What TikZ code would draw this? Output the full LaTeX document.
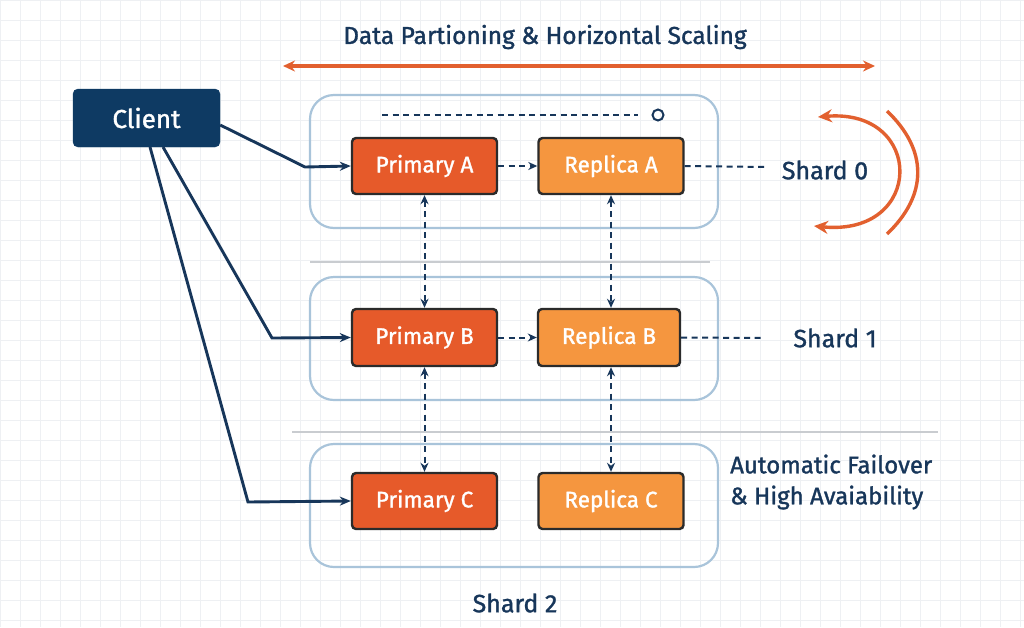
\documentclass[tikz,border=0pt]{standalone}
\usepackage{fontspec}
\setmainfont{Fira Sans}
\newfontfamily\medfont{Fira Sans}[FakeBold=1.3]
\usetikzlibrary{arrows.meta}
\definecolor{navy}{HTML}{17365A}
\definecolor{clientfill}{HTML}{0E3A63}
\definecolor{prim}{HTML}{E65A2A}
\definecolor{repl}{HTML}{F5963F}
\definecolor{contb}{HTML}{A9C4DA}
\definecolor{sep}{HTML}{C9CCD0}
\definecolor{arcc}{HTML}{E2602F}
\definecolor{gridc}{HTML}{EEF0F3}
\definecolor{boxedge}{HTML}{2B2B2B}
\tikzset{
  pbox/.style={draw=boxedge, line width=2.4pt, fill=prim, rounded corners=4pt, text=white, font=\medfont\fontsize{22.5}{26}\selectfont, minimum width=145pt, minimum height=56pt, inner sep=0pt},
  rbox/.style={pbox, fill=repl},
  cont/.style={draw=contb, line width=2.2pt, rounded corners=24pt, minimum width=408pt, inner sep=0pt},
  lab/.style={text=navy, font=\medfont\fontsize{25}{30}\selectfont, inner sep=0pt},
  dsh/.style={navy, line width=2pt, dash pattern=on 6pt off 4.5pt},
  darr/.style={dsh, -{Stealth[length=9pt,width=8pt]}},
  ddarr/.style={dsh, {Stealth[length=9pt,width=8pt]}-{Stealth[length=9pt,width=8pt]}},
  carr/.style={navy, line width=2.9pt, -{Stealth[length=11pt,width=9pt]}},
}
\begin{document}
\begin{tikzpicture}[x=1pt,y=-1pt]
\useasboundingbox (0,0) rectangle (1024,627);
\fill[white] (0,0) rectangle (1024,627);
\draw[gridc, line width=0.6pt, step=20pt] (0,0) grid (1024,627);

% title and double arrow
\node[lab, font=\medfont\fontsize{24.5}{30}\selectfont] (title) at (545,37) {Data Partioning \& Horizontal Scaling};
\coordinate (hl) at (283,66);
\coordinate (hr) at (875,66);
\draw[arcc, line width=3.4pt, {Stealth[length=12pt,width=11pt]}-{Stealth[length=12pt,width=11pt]}] (hl) -- (hr);

% client
\node[draw=clientfill, fill=clientfill, rounded corners=5pt, minimum width=147pt, minimum height=58pt, text=white, font=\medfont\fontsize{26}{30}\selectfont, inner sep=0pt] (client) at (146.5,118) {Client};

% containers
\node[cont, minimum height=133pt] (s0) at (514,161.5) {};
\node[cont, minimum height=123pt] (s1) at (514,338.5) {};
\node[cont, minimum height=123pt] (s2) at (514,505.5) {};

% separators
\draw[sep, line width=2.5pt] (310,262) -- (710,262);
\draw[sep, line width=2.5pt] (292,432) -- (938,432);

% top dashed line and circle
\coordinate (dl) at (382,115);
\coordinate (dr) at (638,115);
\node[draw=navy, line width=2pt, circle, minimum size=11pt, inner sep=0pt] (circ) at (658,115) {};
\draw[dsh] (dl) -- (dr);

% boxes
\node[pbox] (pa) at (424.5,166) {Primary A};
\node[rbox] (ra) at (611,166) {Replica A};
\node[pbox, minimum height=57pt] (pb) at (424.5,337.5) {Primary B};
\node[rbox, minimum height=57pt, minimum width=142pt] (rb) at (609,337.5) {Replica B};
\node[pbox] (pc) at (424.5,501) {Primary C};
\node[rbox] (rc) at (611,501) {Replica C};

% horizontal dashed arrows
\draw[darr] (pa) -- (ra);
\draw[darr] (pb) -- (rb);

% vertical double arrows
\draw[ddarr] (pa.south) -- (pb.north);
\draw[ddarr] (ra.south) -- (ra.south |- rb.north);
\draw[ddarr] (pb.south) -- (pc.north);
\draw[ddarr] (ra.south |- rb.south) -- (rc.north);

% shard labels
\node[lab] (sh0) at (825,170) {Shard 0};
\node[lab] (sh1) at (835,338) {Shard 1};
\node[lab] (sh2) at (515,603) {Shard 2};
\coordinate (e0) at (765,167);
\coordinate (e1) at (762,338);
\draw[dsh] (ra.east) -- (e0);
\draw[dsh] (rb.east) -- (e1);

\node[lab, align=left, anchor=west, font=\medfont\fontsize{24}{31}\selectfont] (fail) at (730,482) {Automatic Failover\\\& High Avaiability};

% client connectors
\coordinate (ka) at (305,167);
\coordinate (kb) at (272,338);
\coordinate (kc) at (248,502);
\draw[carr] (client.east |- 0,125) -- (ka) -- (pa.west);
\draw[carr] (163,147) -- (kb) -- (pb.west);
\draw[carr] (150,147) -- (kc) -- (pc.west);

% curved arrows
\draw[arcc, line width=3.4pt, {Stealth[length=14pt,width=13pt]}-{Stealth[length=14pt,width=13pt]}] (818,117) .. controls (925,108) and (925,237) .. (814,226);
\draw[arcc, line width=3.4pt] (887,111) .. controls (928,150) and (928,195) .. (887,234);
\end{tikzpicture}
\end{document}
